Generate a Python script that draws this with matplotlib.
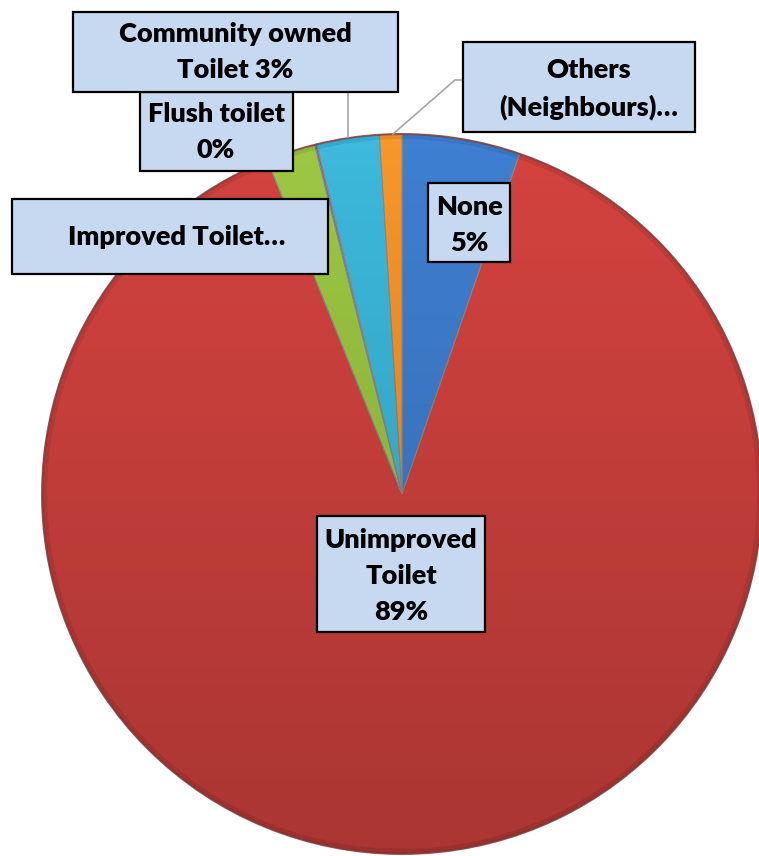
import matplotlib.pyplot as plt
import numpy as np
from matplotlib.patches import Rectangle, Circle

# Toilet facility shares (%), clockwise from 12 o'clock
categories = ['None', 'Unimproved Toilet', 'Improved Toilet', 'Flush toilet',
              'Community owned Toilet', 'Others (Neighbours)']
shares = [5.3, 88.6, 2.2, 0.1, 2.8, 1.0]
colors = ['#3F7FD1', '#D4433F', '#9DC843', '#7E5FA6', '#3CB9DC', '#F7962A']

pct = [f"{v:.0f}%" for v in shares]
label_text = [
    f"None\n{pct[0]}",
    f"Unimproved\nToilet\n{pct[1]}",
    "Improved Toilet…",
    f"Flush toilet\n{pct[3]}",
    f"Community owned\nToilet {pct[4]}",
    "Others\n(Neighbours)…",
]

W, H = 759, 856
fig = plt.figure(figsize=(W / 100, H / 100), dpi=100)
ax = fig.add_axes([0, 0, 1, 1])


def py(y):
    # screen pixel row -> data y
    return H - y


cx, cy, r = 402, py(494), 360

wedges, _ = ax.pie(shares, colors=colors, startangle=90, counterclock=False,
                   center=(cx, cy), radius=r, frame=True,
                   wedgeprops=dict(edgecolor='#8a8a8a', linewidth=0.8))
ax.set_xlim(0, W)
ax.set_ylim(0, H)
ax.set_aspect('equal')
ax.axis('off')

# soft vertical shading over the whole pie
clip = Circle((cx, cy), r, transform=ax.transData)
grad = np.zeros((256, 1, 4))
grad[:, 0, 3] = np.linspace(0.0, 0.2, 256)
im = ax.imshow(grad, extent=[cx - r, cx + r, cy - r, cy + r], origin='upper',
               aspect='auto', zorder=3, interpolation='bilinear')
im.set_clip_path(clip)

# darker rim
ax.add_patch(Circle((cx, cy), r, fill=False, edgecolor='#7a2424',
                    linewidth=1.5, alpha=0.6, zorder=4))
ax.add_patch(Circle((cx, cy), r - 3, fill=False, edgecolor='black',
                    linewidth=3, alpha=0.08, zorder=4))

# label boxes: left, top, right, bottom (pixels), text centre
boxes = [
    (428, 183, 510, 262, 469, 225),
    (317, 516, 485, 632, 401, 576),
    (12, 199, 328, 274, 177, 237),
    (140, 92, 293, 171, 216, 132),
    (73, 12, 398, 92, 235, 52),
    (463, 42, 695, 132, 589, 89),
]

# leader lines
ax.plot([348, 348], [py(92), py(137)], color='#a6a6a6', lw=1.2, zorder=5)
ax.plot([463, 455, 393], [py(80), py(80), py(134)], color='#a6a6a6',
        lw=1.2, zorder=5)

for (x0, y0, x1, y1, tx, ty), txt in zip(boxes, label_text):
    ax.add_patch(Rectangle((x0, py(y1)), x1 - x0, y1 - y0,
                           facecolor='#C6D9F1', edgecolor='black',
                           linewidth=1.6, zorder=6))
    ax.text(tx, py(ty), txt, ha='center', va='center', fontsize=19.5,
            fontweight='heavy', family='Lato', linespacing=1.62,
            color='black', zorder=7)

fig.savefig('out.png', dpi=100)
